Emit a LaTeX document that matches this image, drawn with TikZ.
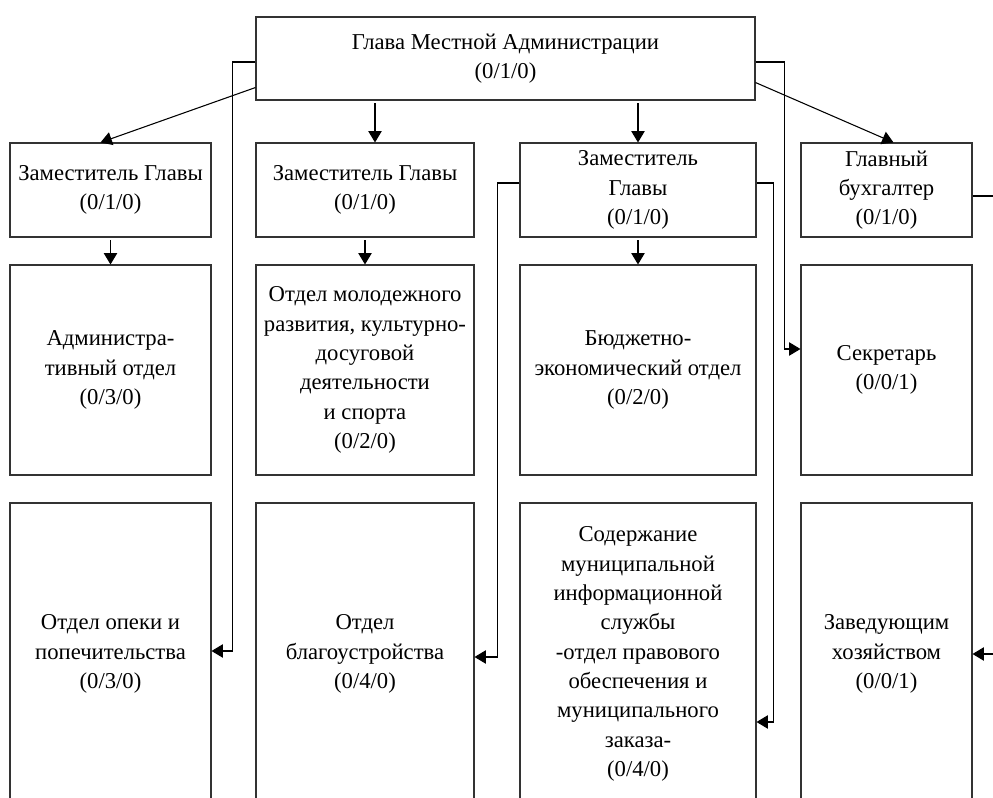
\documentclass[tikz,border=0pt]{standalone}
\usepackage{fontspec}
\setmainfont{Liberation Serif}
\usetikzlibrary{calc}
\usetikzlibrary{arrows.meta}

\tikzset{
  box/.style={draw=black!80, line width=0.8pt, rectangle, inner sep=0pt, align=center,
    font=\fontsize{17}{22}\selectfont},
  arr/.style={-{Triangle[length=8.5pt,width=10pt]}, line width=0.8pt},
  lin/.style={line width=0.8pt},
  c1/.style={minimum width=150.75pt}, c2/.style={minimum width=163.5pt},
  c3/.style={minimum width=177pt},    c4/.style={minimum width=128.25pt},
  r1/.style={minimum height=70.5pt},  r2/.style={minimum height=157.5pt},
  r3/.style={minimum height=226.5pt}
}

\begin{document}
\begin{tikzpicture}[x=0.75pt,y=-0.75pt]
  \clip[use as bounding box] (0,0) rectangle (993,797);

  \node[box, minimum width=374.25pt, minimum height=62.25pt] (head) at (505.5,58.5)
    {Глава Местной Администрации\\(0/1/0)};

  % first row
  \node[box,c1,r1] (dep1) at (110.5,190) {Заместитель Главы\\(0/1/0)};
  \node[box,c2,r1] (dep2) at (365,190)   {Заместитель Главы\\(0/1/0)};
  \node[box,c3,r1] (dep3) at (638,190)   {Заместитель\\Главы\\(0/1/0)};
  \node[box,c4,r1] (buh)  at (886.5,190) {Главный\\бухгалтер\\(0/1/0)};

  % second row
  \node[box,c1,r2] (adm)   at (110.5,370) {Администра-\\тивный отдел\\(0/3/0)};
  \node[box,c2,r2] (molod) at (365,370)   {Отдел молодежного\\развития, культурно-\\досуговой\\деятельности\\и спорта\\(0/2/0)};
  \node[box,c3,r2] (budg)  at (638,370)   {Бюджетно-\\экономический отдел\\(0/2/0)};
  \node[box,c4,r2] (sekr)  at (886.5,370) {Секретарь\\(0/0/1)};

  % third row
  \node[box,c1,r3] (opek) at (110.5,654) {Отдел опеки и\\попечительства\\(0/3/0)};
  \node[box,c2,r3] (blag) at (365,654)   {Отдел\\благоустройства\\(0/4/0)};
  \node[box,c3,r3] (sod)  at (638,654)   {Содержание\\муниципальной\\информационной\\службы\\-отдел правового\\обеспечения и\\муниципального\\заказа-\\(0/4/0)};
  \node[box,c4,r3] (zav)  at (886.5,654) {Заведующим\\хозяйством\\(0/0/1)};

  \coordinate (t2) at ($(dep2.north)+(10,0)$);
  \coordinate (zavin) at ($(zav.east)+(30,0)$);

  \draw[arr] ($(head.south west)+(0,-13)$) -- ($(dep1.north)+(-10,0)$);
  \draw[arr, shorten <=2pt] (t2 |- head.south) -- (t2);
  \draw[arr, shorten <=2pt] (dep3.north |- head.south) -- (dep3.north);
  \draw[arr] ($(head.south east)+(0,-18)$) -- ($(buh.north)+(7,0)$);

  \foreach \a/\b in {dep1/adm, dep2/molod, dep3/budg}
    \draw[arr, shorten <=2pt] (\a.south) -- (\b.north);

  \draw[arr] ($(head.west)+(0,3.5)$) -- ++(-23,0) |- ($(opek.east)+(0,-3)$);
  \draw[arr] ($(head.east)+(0,3.5)$) -- ++(29,0) |- ($(sekr.west)+(0,-21)$);
  \draw[arr] ($(dep3.west)+(0,-7)$) -- ++(-22,0) |- ($(blag.east)+(0,3)$);
  \draw[arr] ($(dep3.east)+(0,-7)$) -- ++(17,0) |- ($(sod.east)+(0,68)$);
  \draw[lin] ($(buh.east)+(0,6)$) -- ++(30,0);
  \draw[arr] (zavin) -- (zav.east);
\end{tikzpicture}
\end{document}
